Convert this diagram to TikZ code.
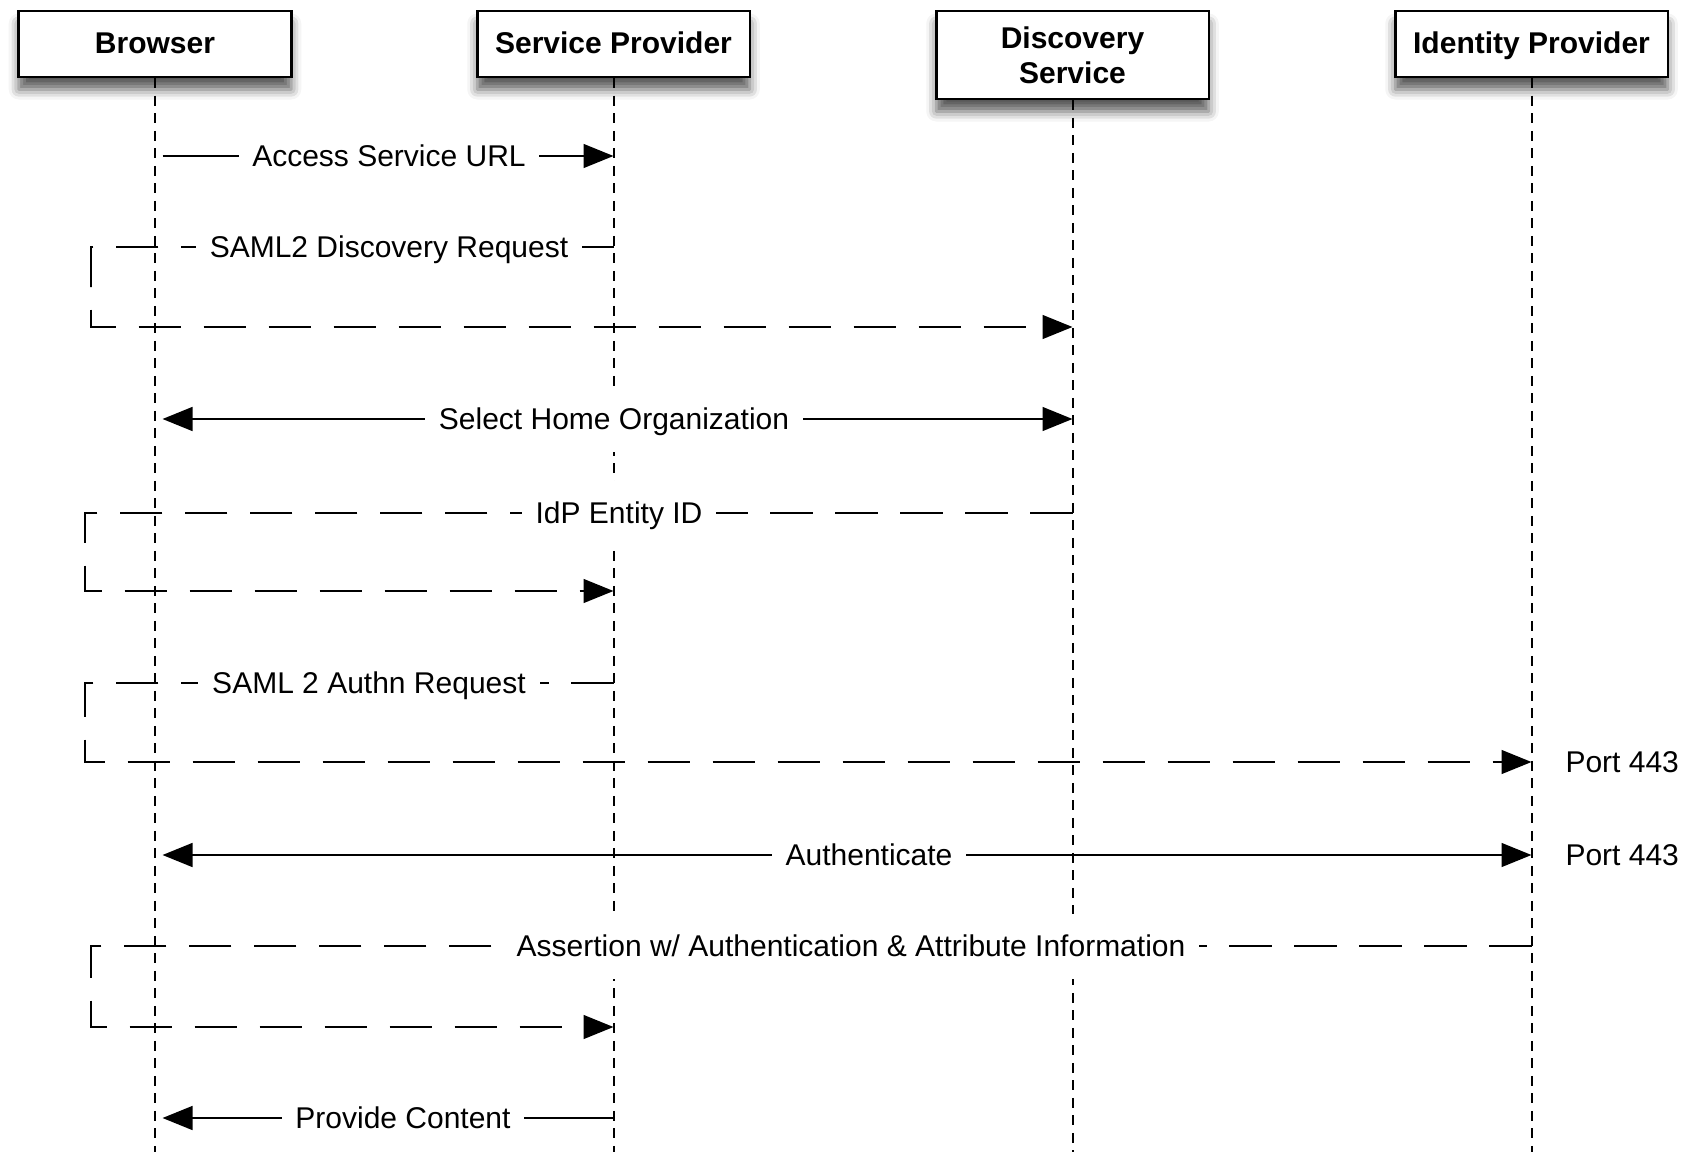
\documentclass[tikz,border=0pt]{standalone}
\usepackage{fontspec}
\setmainfont{Liberation Sans}
\usetikzlibrary{arrows.meta,shadows.blur}

\begin{document}
\begin{tikzpicture}[x=0.4pt,y=-0.4pt,>={Triangle[length=12pt,width=9.5pt]},
	actor/.style={draw,line width=1pt,fill=white,minimum width=109pt,minimum height=26.4pt,align=center,
		font=\bfseries\fontsize{12}{14}\selectfont,
		blur shadow={shadow xshift=0pt,shadow yshift=-5pt,shadow blur radius=4pt,shadow opacity=65}},
	oneline/.style={actor,text height=9pt,text depth=1.5pt},
	life/.style={line width=0.8pt,dash pattern=on 4pt off 3pt},
	msg/.style={line width=0.9pt,->},
	redir/.style={msg,dash pattern=on 17pt off 9pt},
	lbl/.style={fill=white,font=\fontsize{12}{14}\selectfont,text height=9.6pt,text depth=1pt,inner xsep=5.5pt,inner ysep=7.7pt},
	port/.style={font=\fontsize{12}{14}\selectfont,anchor=west,inner sep=0pt}]
 	\useasboundingbox (0,0) rectangle (1686,1152);
 	\node[oneline] (br) at (155,44) {Browser};
 	\node[oneline] (sp) at (613.5,44) {Service Provider};
 	\node[actor,minimum height=35.2pt] (ds) at (1072.5,55) {Discovery\\Service};
 	\node[oneline] (idp) at (1531.5,44) {Identity Provider};
 	\foreach \l in {br,sp,ds,idp}
 		\draw[life] (\l.south) -- (\l |- 0,1152);
 	\foreach \r/\y in {a/156,b/247,c/327,d/419,e/513,f/591,g/683,h/762,i/855,j/946,k/1027,l/1118}
 		\foreach \l in {br,sp,ds,idp}
 			\coordinate (\l\r) at (\l |- 0,\y);
 	\coordinate (turn1) at (91,287);
 	\coordinate (turn2) at (85,552);
 	\coordinate (turn3) at (85,722);
 	\coordinate (turn4) at (91,986);
 	\draw[msg,shorten <=3pt] (bra) -- (spa);
 	\draw[redir] (spb) -| (turn1) |- (dsc);
 	\draw[msg,<->,shorten <=3pt] (brd) -- (dsd);
 	\draw[redir] (dse) -| (turn2) |- (spf);
 	\draw[redir] (spg) -| (turn3) |- (idph);
 	\draw[msg,<->,shorten <=3pt] (bri) -- (idpi);
 	\draw[redir] (idpj) -| (turn4) |- (spk);
 	\draw[msg,shorten >=3pt] (spl) -- (brl);
 	\node[lbl] (access) at (389,156) {Access Service URL};
 	\node[lbl] (disco) at (389,247) {SAML2 Discovery Request};
 	\node[lbl] (home) at (614,419) {Select Home Organization};
 	\node[lbl] (entity) at (619,513) {IdP Entity ID};
 	\node[lbl] (authn) at (369,683) {SAML 2 Authn Request};
 	\node[lbl] (auth) at (869,855) {Authenticate};
 	\node[lbl] (assert) at (851,946) {Assertion w/ Authentication \& Attribute Information};
 	\node[lbl] (content) at (403,1118) {Provide Content};
 	\node[port] (port1) at (1565,762) {Port 443};
 	\node[port] (port2) at (1565,855) {Port 443};
\end{tikzpicture}
\end{document}
